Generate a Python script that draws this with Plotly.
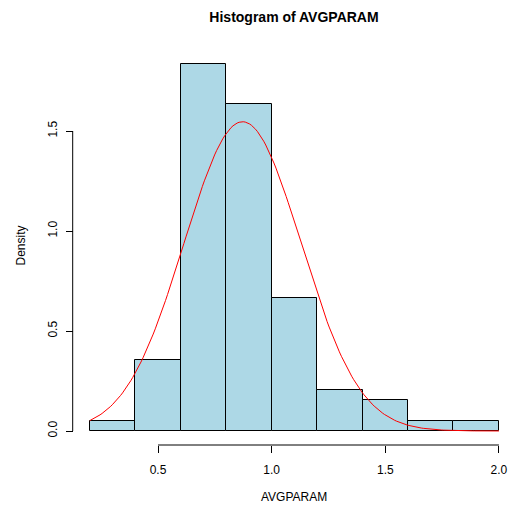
import numpy as np
import plotly.graph_objects as go

# Histogram data
bin_edges = [0.2, 0.4, 0.6, 0.8, 1.0, 1.2, 1.4, 1.6, 1.8, 2.0]
counts = [1, 7, 36, 32, 13, 4, 3, 1, 1]
n_obs = 98
# fitted normal curve parameters
fit_mean = 0.872
fit_sd = 0.258

x_ticks = [0.5, 1.0, 1.5, 2.0]
x_tick_labels = ["0.5", "1.0", "1.5", "2.0"]
y_ticks = [0.0, 0.5, 1.0, 1.5]
y_tick_labels = ["0.0", "0.5", "1.0", "1.5"]

W, H = 513, 509
edges = np.array(bin_edges)
widths = np.diff(edges)
centers = (edges[:-1] + edges[1:]) / 2
density = np.array(counts) / (n_obs * widths)

xc = np.linspace(edges[0], edges[-1], 201)
yc = np.exp(-0.5 * ((xc - fit_mean) / fit_sd) ** 2) / (fit_sd * np.sqrt(2 * np.pi))

fig = go.Figure()
fig.add_trace(go.Bar(x=centers, y=density, width=widths,
                     marker=dict(color="#ADD8E6", line=dict(color="black", width=1)),
                     hoverinfo="skip"))
fig.add_trace(go.Scatter(x=xc, y=yc, mode="lines",
                         line=dict(color="red", width=1), hoverinfo="skip"))

font = "Liberation Sans, Arial, Helvetica, sans-serif"
x_axis_pos = 1 - 445 / H
y_axis_pos = 72.7 / W

fig.update_layout(
    width=W, height=H, autosize=False,
    margin=dict(l=0, r=0, t=0, b=0),
    paper_bgcolor="white", plot_bgcolor="white",
    showlegend=False, bargap=0,
    font=dict(family=font, size=12, color="black"),
    title=dict(text="<b>Histogram of AVGPARAM</b>", x=294 / W, xanchor="center",
               y=1 - 17 / H, yanchor="middle", font=dict(size=14, family=font)),
    xaxis=dict(range=[-0.1951, 2.0618], showgrid=False, zeroline=False, showline=False,
               anchor="free", position=x_axis_pos, tickmode="array",
               tickvals=x_ticks, ticktext=x_tick_labels, ticks="outside",
               ticklen=7, tickcolor="black", tickwidth=1, automargin=False,
               ticklabelstandoff=7),
    yaxis=dict(range=[-0.39, 2.155], showgrid=False, zeroline=False, showline=False,
               anchor="free", position=y_axis_pos, tickmode="array",
               tickvals=y_ticks, ticktext=y_tick_labels, ticks="outside",
               ticklen=7, tickcolor="black", tickwidth=1, tickangle=-90,
               automargin=False, ticklabelstandoff=4),
)

# R-style detached axis lines spanning tick range
fig.add_shape(type="line", xref="x", yref="paper", x0=x_ticks[0], x1=x_ticks[-1],
              y0=x_axis_pos, y1=x_axis_pos, line=dict(color="black", width=1))
fig.add_shape(type="line", xref="paper", yref="y", x0=y_axis_pos, x1=y_axis_pos,
              y0=y_ticks[0], y1=y_ticks[-1], line=dict(color="black", width=1))

fig.add_annotation(text="AVGPARAM", xref="paper", yref="paper", x=294 / W, y=1 - 497 / H,
                   xanchor="center", yanchor="middle", showarrow=False, font=dict(size=12))
fig.add_annotation(text="Density", xref="paper", yref="paper", x=20.5 / W, y=1 - 246 / H,
                   xanchor="center", yanchor="middle", showarrow=False, textangle=-90,
                   font=dict(size=12))

fig.write_html("out.html")
